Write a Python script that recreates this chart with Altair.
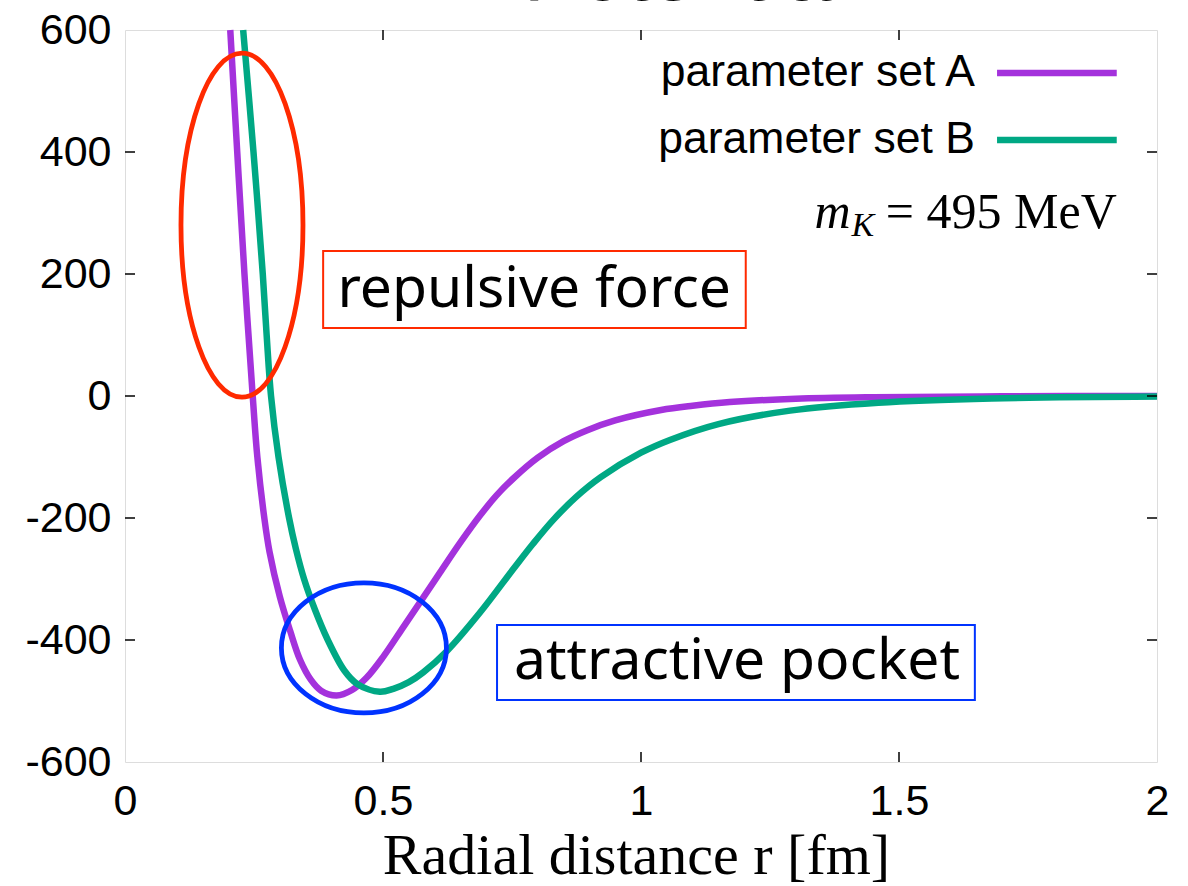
import altair as alt
import pandas as pd

# Potential V(r) [MeV] against radial distance r [fm] for the two parameter sets
r_a = [0.204, 0.2175, 0.2315, 0.2475, 0.2565, 0.270, 0.280, 0.300, 0.320, 0.339, 0.360,
       0.380, 0.410, 0.440, 0.468, 0.500, 0.540, 0.572, 0.610, 0.650, 0.688, 0.720,
       0.754, 0.800, 0.850, 0.896, 0.950, 1.039, 1.100, 1.172, 1.300, 1.450, 1.700, 2.000]
v_a = [600, 400, 200, 0, -100, -200, -255, -329, -385, -432, -465,
       -483, -491, -482, -462, -428, -378, -338, -290, -240, -196, -163,
       -134, -101, -74, -56, -40, -23, -16, -10, -4.5, -2, -0.5, 0]

r_b = [0.229, 0.249, 0.267, 0.2745, 0.283, 0.2975, 0.318, 0.331, 0.347, 0.368, 0.393,
       0.425, 0.450, 0.494, 0.520, 0.550, 0.578, 0.624, 0.688, 0.754, 0.790, 0.830,
       0.875, 0.922, 1.000, 1.056, 1.150, 1.289, 1.460, 1.680, 2.000]
v_b = [600, 400, 200, 100, 0, -100, -200, -250, -300, -350, -400,
       -450, -472, -485, -480, -469, -453, -418, -355, -282, -243, -203,
       -165, -133, -93, -72, -46, -24, -11, -4, -1]

series_names = ["parameter set A", "parameter set B"]
series_colors = ["#A432DC", "#00A884"]

x_ticks = [0.5, 1.0, 1.5]
y_ticks = [-400, -200, 0, 200, 400]

# legend entries (label anchor and sample-line span, in data units)
legend_label_r = [1.647, 1.647]
legend_v = [529.5, 419.7]
legend_line_r0 = [1.690, 1.690]
legend_line_r1 = [1.922, 1.922]

# highlighted regions: centre, pixel radii
ell_cx = [0.2267, 0.463]
ell_cy = [280, -413]
ell_rx_px = [61, 82.5]
ell_ry_px = [172, 65]
ell_colors = ["#FF2A00", "#0033FF"]

# annotation boxes
box_text = ["repulsive force", "attractive pocket"]
box_r0 = [0.384, 0.721]
box_r1 = [1.203, 1.647]
box_v0 = [237.7, -375.4]
box_v1 = [111.5, -498.4]
box_text_r = [0.793, 1.186]
box_text_v = [174, -436]

W, H = 1032, 732

x_scale = alt.Scale(domain=[0, 2], nice=False, zero=False)
y_scale = alt.Scale(domain=[-600, 600], nice=False, zero=False)

curves = pd.DataFrame(
    [{"r": r, "V": v, "set": series_names[0]} for r, v in zip(r_a, v_a)]
    + [{"r": r, "V": v, "set": series_names[1]} for r, v in zip(r_b, v_b)]
)

x_axis = alt.Axis(
    values=[0, 0.5, 1, 1.5, 2], labelExpr="datum.value", ticks=False, tickSize=0,
    domain=False, grid=False, labelFont="Liberation Sans", labelFontSize=43,
    labelColor="black", labelPadding=18, labelFlush=False,
    title="Radial distance r [fm]", titleFont="Liberation Serif", titleFontSize=58,
    titleFontWeight="normal", titleColor="black", titleX=511, titleY=111,
    titleBaseline="alphabetic", titleAlign="center",
)
y_axis = alt.Axis(
    values=[-600, -400, -200, 0, 200, 400, 600], labelExpr="datum.value",
    ticks=False, tickSize=0, domain=False, grid=False,
    labelFont="Liberation Sans", labelFontSize=43,
    labelColor="black", labelPadding=14, labelFlush=False, title=None,
)

base_lines = alt.Chart(curves).mark_line(strokeWidth=6.5, interpolate="catmull-rom").encode(
    x=alt.X("r:Q", scale=x_scale, axis=x_axis),
    y=alt.Y("V:Q", scale=y_scale, axis=y_axis),
    color=alt.Color("set:N", scale=alt.Scale(domain=series_names, range=series_colors), legend=None),
    order=alt.Order("r:Q"),
)

# inward ticks on all four sides
xt = pd.DataFrame({"r": x_ticks})
yt = pd.DataFrame({"V": y_ticks})
tick_style = dict(color="black", strokeWidth=1.5)
ticks_bottom = alt.Chart(xt).mark_rule(**tick_style).encode(
    x="r:Q", y=alt.value(H - 10), y2=alt.value(H))
ticks_top = alt.Chart(xt).mark_rule(**tick_style).encode(
    x="r:Q", y=alt.value(0), y2=alt.value(10))
ticks_left = alt.Chart(yt).mark_rule(**tick_style).encode(
    y="V:Q", x=alt.value(0), x2=alt.value(10))
ticks_right = alt.Chart(yt).mark_rule(**tick_style).encode(
    y="V:Q", x=alt.value(W - 10), x2=alt.value(W))

# legend
leg = pd.DataFrame({"set": series_names, "lr": legend_label_r, "v": legend_v,
                    "r0": legend_line_r0, "r1": legend_line_r1})
legend_text = alt.Chart(leg).mark_text(
    align="right", baseline="middle", font="Liberation Sans", fontSize=44.5, color="black"
).encode(x="lr:Q", y="v:Q", text="set:N")
legend_lines = alt.Chart(leg).mark_rule(strokeWidth=6.5).encode(
    x="r0:Q", x2="r1:Q", y="v:Q",
    color=alt.Color("set:N", scale=alt.Scale(domain=series_names, range=series_colors), legend=None),
)

# kaon mass note
mk = pd.DataFrame({"r": [1.406], "v": [275.4], "rk": [1.408], "vk": [262], "re": [1.922]})
mk_m = alt.Chart(mk).mark_text(
    align="right", baseline="alphabetic", font="Liberation Serif", fontStyle="italic",
    fontSize=50, color="black"
).encode(x="r:Q", y="v:Q", text=alt.value("m"))
mk_k = alt.Chart(mk).mark_text(
    align="left", baseline="alphabetic", font="Liberation Serif", fontStyle="italic",
    fontSize=34, color="black"
).encode(x="rk:Q", y="vk:Q", text=alt.value("K"))
mk_rest = alt.Chart(mk).mark_text(
    align="right", baseline="alphabetic", font="Liberation Serif",
    fontSize=50, color="black"
).encode(x="re:Q", y="v:Q", text=alt.value("= 495 MeV"))

# ellipses around the repulsive core and the attractive pocket
ellipse_layers = []
for cx, cy, rx, ry, col in zip(ell_cx, ell_cy, ell_rx_px, ell_ry_px, ell_colors):
    m = max(rx, ry)
    ax, ay = rx / m, ry / m
    path = f"M {-ax} 0 A {ax} {ay} 0 1 0 {ax} 0 A {ax} {ay} 0 1 0 {-ax} 0 Z"
    ellipse_layers.append(
        alt.Chart(pd.DataFrame({"r": [cx], "V": [cy]})).mark_point(
            shape=path, size=(2 * m) ** 2, filled=False, stroke=col,
            strokeWidth=4.8, opacity=1
        ).encode(x="r:Q", y="V:Q")
    )

# labelled boxes
boxes = pd.DataFrame({"t": box_text, "r0": box_r0, "r1": box_r1, "v0": box_v0, "v1": box_v1,
                      "tr": box_text_r, "tv": box_text_v, "c": ell_colors})
box_rects = alt.Chart(boxes).mark_rect(fillOpacity=0, strokeWidth=2).encode(
    x="r0:Q", x2="r1:Q", y="v0:Q", y2="v1:Q",
    stroke=alt.Stroke("c:N", scale=None),
)
box_labels = alt.Chart(boxes).mark_text(
    align="center", baseline="middle", font="Noto Sans", fontSize=57, color="black"
).encode(x="tr:Q", y="tv:Q", text="t:N")

# title, running off the top edge
title_txt = alt.Chart(pd.DataFrame({"t": ["Potential"]})).mark_text(
    align="center", baseline="alphabetic", font="Liberation Sans", fontSize=84, color="black"
).encode(x=alt.value(562), y=alt.value(-30), text="t:N")

chart = alt.layer(
    base_lines, ticks_bottom, ticks_top, ticks_left, ticks_right,
    legend_lines, legend_text, mk_m, mk_k, mk_rest,
    *ellipse_layers, box_rects, box_labels, title_txt,
).properties(
    width=W, height=H,
    autosize=alt.AutoSizeParams(type="none"),
    padding={"left": 125, "top": 30, "right": 31, "bottom": 124},
).configure_view(stroke="black", strokeWidth=2).configure(background="white")

chart.save("out.html", embed_options={"renderer": "svg", "actions": False})
